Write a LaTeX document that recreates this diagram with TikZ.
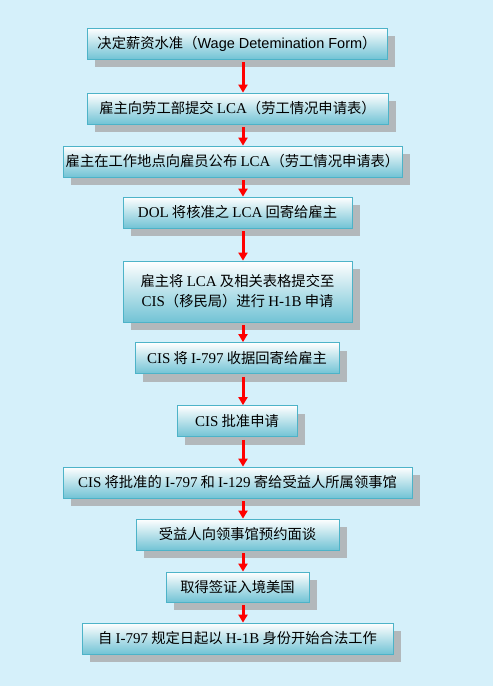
\documentclass[tikz,border=0pt]{standalone}
\usepackage{fontspec}
\setmainfont{Liberation Serif}
\setsansfont{Liberation Sans}
\newfontfamily\cjk{Noto Sans CJK SC}
\usetikzlibrary{arrows.meta, shadows}
\definecolor{bgblue}{HTML}{D5F0FA}
\definecolor{bglight}{HTML}{EEF8FD}
\definecolor{boxteal}{HTML}{72C3D5}
\definecolor{boxline}{HTML}{4DB3C8}
\definecolor{shadowgray}{HTML}{B2B8BB}
\newcommand{\tm}[1]{{\rmfamily\fontsize{15}{20}\selectfont #1}}
\tikzset{
  stepbox/.style={draw=boxline, line width=0.8pt, top color=white, bottom color=boxteal,
    minimum height=31pt, inner xsep=1pt, inner ysep=3pt, text=black,
    font={\cjk\fontsize{14.3}{20}\selectfont},
    drop shadow={shadow xshift=8pt, shadow yshift=-8pt, fill=shadowgray, opacity=1}},
  flow/.style={-{Triangle[width=9pt, length=8pt]}, red, line width=3pt, shorten <=3pt}
}

\begin{document}
\begin{tikzpicture}[x=1pt, y=-1pt]
        % Background
        \fill[top color=bgblue, middle color=bglight, bottom color=bgblue] (0,0) rectangle (493,686);
        \useasboundingbox (0,0) rectangle (493,686);

        % Nodes
        \node[stepbox, minimum width=300pt] (wage) at (237, 43.5) {决定薪资水准（{\sffamily\fontsize{14.5}{20}\selectfont Wage Detemination Form}）};
        \node[stepbox, minimum width=301pt] (lca) at (237.5, 108.5) {雇主向劳工部提交 \tm{LCA}（劳工情况申请表）};
        \node[stepbox, minimum width=339pt] (post) at (232.5, 161.5) {雇主在工作地点向雇员公布 \tm{LCA}（劳工情况申请表）};
        \node[stepbox, minimum width=229pt] (dol) at (237.5, 212.5) {\tm{DOL} 将核准之 \tm{LCA} 回寄给雇主};
        \node[stepbox, minimum width=229pt, minimum height=61pt, align=center] (file) at (237.5, 291.5) {雇主将 \tm{LCA} 及相关表格提交至\\\tm{CIS}（移民局）进行 \tm{H-1B} 申请};
        \node[stepbox, minimum width=204pt] (receipt) at (237, 358) {\tm{CIS} 将 \tm{I-797} 收据回寄给雇主};
        \node[stepbox, minimum width=120pt] (approve) at (237, 421) {\tm{CIS} 批准申请};
        \node[stepbox, minimum width=349pt] (consul) at (237.5, 482.5) {\tm{CIS} 将批准的 \tm{I-797} 和 \tm{I-129} 寄给受益人所属领事馆};
        \node[stepbox, minimum width=203pt] (visit) at (237.5, 534.5) {受益人向领事馆预约面谈};
        \node[stepbox, minimum width=143pt, minimum height=30pt] (visa) at (237.5, 587) {取得签证入境美国};
        \node[stepbox, minimum width=311pt] (work) at (237.5, 638.5) {自 \tm{I-797} 规定日起以 \tm{H-1B} 身份开始合法工作};

        \coordinate (ax) at (243, 0);

        % Directed edges
        \draw[flow] (wage.south -| ax) -- (lca.north -| ax);
        \draw[flow] (lca.south -| ax) -- (post.north -| ax);
        \draw[flow] (post.south -| ax) -- (dol.north -| ax);
        \draw[flow] (dol.south -| ax) -- (file.north -| ax);
        \draw[flow] (file.south -| ax) -- (receipt.north -| ax);
        \draw[flow] (receipt.south -| ax) -- (approve.north -| ax);
        \draw[flow] (approve.south -| ax) -- (consul.north -| ax);
        \draw[flow] (consul.south -| ax) -- (visit.north -| ax);
        \draw[flow] (visit.south -| ax) -- (visa.north -| ax);
        \draw[flow] (visa.south -| ax) -- (work.north -| ax);
\end{tikzpicture}
\end{document}
